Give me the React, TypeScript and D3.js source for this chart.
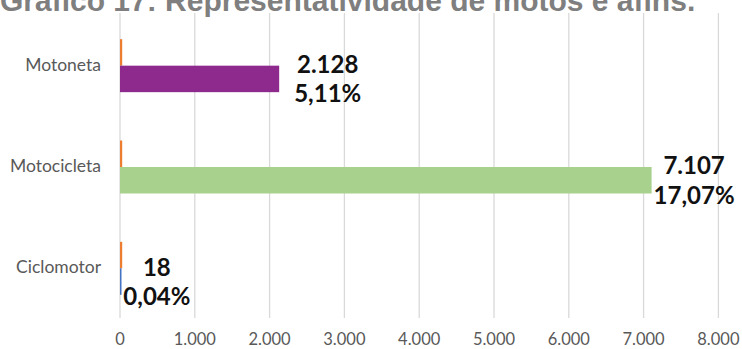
import React, { useEffect, useRef } from "react";
import * as d3 from "d3";

const TITLE = "Gráfico 17: Representatividade de motos e afins.";
const categories = ["Motoneta", "Motocicleta", "Ciclomotor"];
const counts = [2128, 7107, 18];
const countLabels = ["2.128", "7.107", "18"];
const percents = [5.11, 17.07, 0.04];
const percentLabels = ["5,11%", "17,07%", "0,04%"];
const pointColors = ["#8E2A8D", "#A9D18E", "#4472C4"];
const percentColor = "#ED7D31";
const xTicks = [0, 1000, 2000, 3000, 4000, 5000, 6000, 7000, 8000];
const xTickLabels = ["0", "1.000", "2.000", "3.000", "4.000", "5.000", "6.000", "7.000", "8.000"];

// layout: label manually dragged further right in the reference
const LABEL_NUDGE: Record<string, number> = { Motoneta: 13 };

const W = 742;
const H = 349;

export default function App() {
  const ref = useRef<SVGSVGElement>(null);

  useEffect(() => {
    const svg = d3.select(ref.current);
    svg.selectAll("*").remove();

    const x = d3.scaleLinear().domain([0, 8000]).range([120, 718.4]);
    const y = d3.scaleBand<string>().domain(categories).range([15, 319]).paddingInner(0.477).paddingOuter(0.2385);
    const sub = d3.scaleBand<string>().domain(["pct", "cnt"]).range([0, y.bandwidth()]);

    svg.append("text")
      .attr("x", 0)
      .attr("y", 11)
      .attr("font-family", "'Liberation Sans', Arial, sans-serif")
      .attr("font-weight", "bold")
      .attr("font-size", 30)
      .attr("fill", "#7F7F7F")
      .text(TITLE);

    svg.append("g").selectAll("line").data(xTicks).join("line")
      .attr("x1", (d) => x(d)).attr("x2", (d) => x(d))
      .attr("y1", 13).attr("y2", 318)
      .attr("stroke", "#D9D9D9").attr("stroke-width", 1.3);

    svg.append("g").selectAll("text").data(xTicks).join("text")
      .attr("x", (d) => x(d)).attr("y", 345)
      .attr("text-anchor", "middle")
      .attr("font-family", "Lato, sans-serif")
      .attr("font-size", 16.5)
      .attr("fill", "#595959")
      .text((d, i) => xTickLabels[i]);

    svg.append("g").selectAll("text").data(categories).join("text")
      .attr("x", 101)
      .attr("y", (d) => (y(d) as number) + y.bandwidth() / 2 + 5)
      .attr("text-anchor", "end")
      .attr("font-family", "Lato, sans-serif")
      .attr("font-size", 17.5)
      .attr("fill", "#595959")
      .text((d) => d);

    svg.append("g").selectAll("rect").data(categories).join("rect")
      .attr("x", x(0))
      .attr("y", (d) => (y(d) as number) + (sub("pct") as number))
      .attr("width", (d, i) => Math.max(x(percents[i]) - x(0), 2.2))
      .attr("height", sub.bandwidth())
      .attr("fill", percentColor);

    svg.append("g").selectAll("rect").data(categories).join("rect")
      .attr("x", x(0))
      .attr("y", (d) => (y(d) as number) + (sub("cnt") as number))
      .attr("width", (d, i) => Math.max(x(counts[i]) - x(0), 1.5))
      .attr("height", sub.bandwidth())
      .attr("fill", (d, i) => pointColors[i]);

    const lbl = svg.append("g");
    categories.forEach((c, i) => {
      const cy = (y(c) as number) + (sub("cnt") as number) + sub.bandwidth() / 2;
      const g = lbl.append("g")
        .attr("font-family", "Lato, sans-serif")
        .attr("font-weight", "bold")
        .attr("font-size", 24)
        .attr("fill", "#111")
        .attr("text-anchor", "middle");
      const t1 = g.append("text").attr("y", cy - 6).text(countLabels[i]);
      const t2 = g.append("text").attr("y", cy + 23.5).text(percentLabels[i]);
      const w = Math.max(
        (t1.node() as SVGTextElement).getComputedTextLength(),
        (t2.node() as SVGTextElement).getComputedTextLength()
      );
      const cx = x(counts[i]) + 2 + w / 2 + (LABEL_NUDGE[c] || 0);
      t1.attr("x", cx);
      t2.attr("x", cx);
    });
  }, []);

  return (
    <div style={{ position: "absolute", left: 0, top: 0, width: W, height: H, background: "#fff" }}>
      <svg ref={ref} width={W} height={H} style={{ display: "block" }} />
    </div>
  );
}
